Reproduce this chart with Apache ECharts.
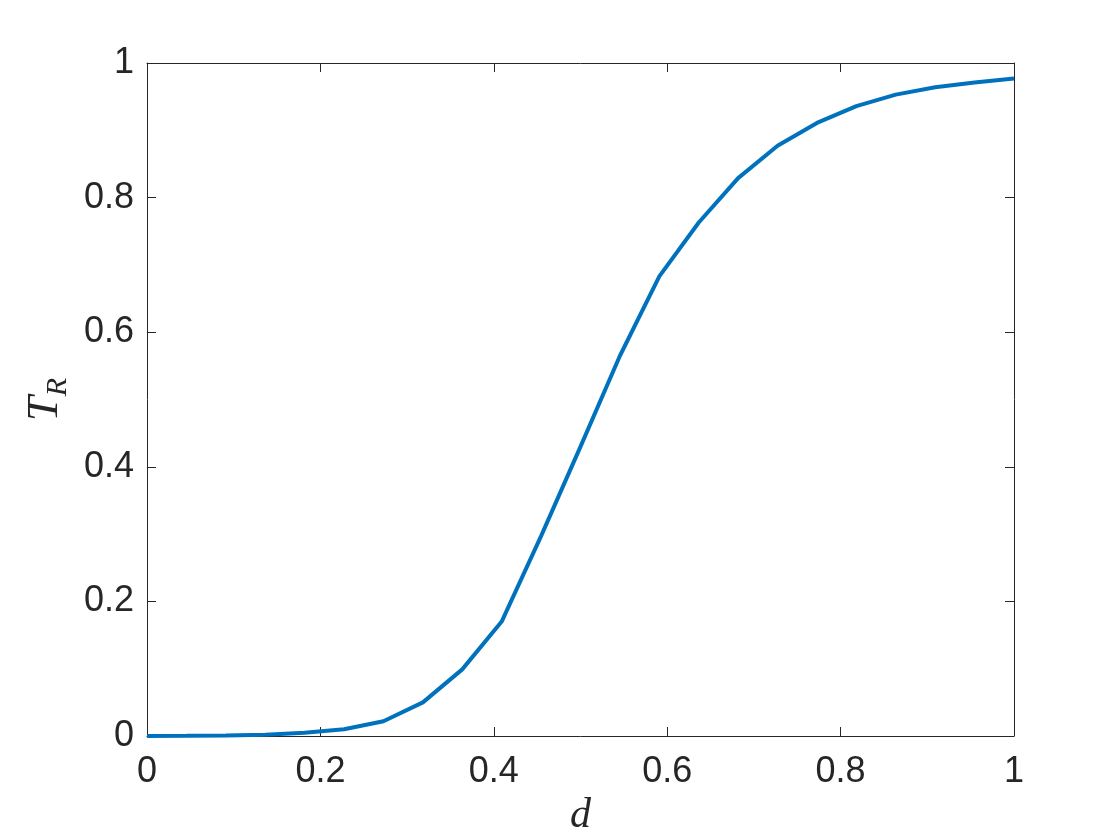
<!DOCTYPE html>
<html>
<head>
<meta charset="utf-8">
<script src="https://cdn.jsdelivr.net/npm/echarts@6/dist/echarts.min.js"></script>
<style>
html,body{margin:0;padding:0;background:#fff;}
#chart{width:1120px;height:840px;}
</style>
</head>
<body>
<div id="chart"></div>
<script>
// d = k/22, k = 0..22
const dValues = [0, 0.0455, 0.0909, 0.1364, 0.1818, 0.2273, 0.2727, 0.3182, 0.3636, 0.4091, 0.4545,
  0.5, 0.5455, 0.5909, 0.6364, 0.6818, 0.7273, 0.7727, 0.8182, 0.8636, 0.9091, 0.9545, 1.0];
const TRValues = [0, 0.0002, 0.0006, 0.002, 0.005, 0.010, 0.022, 0.050, 0.099, 0.170, 0.297,
  0.430, 0.565, 0.683, 0.763, 0.829, 0.877, 0.911, 0.936, 0.953, 0.964, 0.971, 0.977];
const xTicks = [0, 0.2, 0.4, 0.6, 0.8, 1];
const yTicks = [0, 0.2, 0.4, 0.6, 0.8, 1];

const ink = '#262626';
const seriesData = dValues.map((d, i) => [d, TRValues[i]]);

const chart = echarts.init(document.getElementById('chart'), null, {renderer: 'canvas'});

const baseAxis = {
  type: 'value', min: 0, max: 1, interval: 0.2,
  axisLine: {show: true, onZero: false, lineStyle: {color: ink, width: 1}},
  axisTick: {show: true, inside: true, length: 9, lineStyle: {color: ink, width: 1}},
  splitLine: {show: false}
};

chart.setOption({
  animation: false,
  backgroundColor: '#ffffff',
  grid: {left: 147, right: 106, top: 63, bottom: 104, containLabel: false, outerBoundsMode: 'none'},
  xAxis: [
    Object.assign({}, baseAxis, {
      position: 'bottom',
      axisLabel: {show: true, color: ink, fontSize: 36, fontFamily: 'Liberation Sans', margin: 18,
        formatter: v => String(xTicks.find(t => Math.abs(t - v) < 1e-9) ?? v)},
      name: 'd', nameLocation: 'middle', nameGap: 50,
      nameTextStyle: {color: ink, fontSize: 42, fontStyle: 'italic', fontFamily: 'Liberation Serif'}
    }),
    Object.assign({}, baseAxis, {position: 'top', axisLabel: {show: false}})
  ],
  yAxis: [
    Object.assign({}, baseAxis, {
      position: 'left',
      axisLabel: {show: true, color: ink, fontSize: 36, fontFamily: 'Liberation Sans', margin: 13,
        padding: [6, 0, 0, 0],
        formatter: v => String(yTicks.find(t => Math.abs(t - v) < 1e-9) ?? v)},
      name: '{t|T}{r|R}', nameLocation: 'middle', nameGap: 52, nameRotate: 90,
      nameTextStyle: {
        color: ink,
        rich: {
          t: {fontSize: 45, fontStyle: 'italic', fontFamily: 'Liberation Serif', color: ink, lineHeight: 50, verticalAlign: 'top'},
          r: {fontSize: 30, fontStyle: 'italic', fontFamily: 'Liberation Serif', color: ink, lineHeight: 50, verticalAlign: 'bottom'}
        }
      }
    }),
    Object.assign({}, baseAxis, {position: 'right', axisLabel: {show: false}})
  ],
  series: [{
    type: 'line',
    data: seriesData,
    xAxisIndex: 0, yAxisIndex: 0,
    showSymbol: false,
    smooth: false,
    lineStyle: {color: '#0072BD', width: 4},
    itemStyle: {color: '#0072BD'}
  }]
});
</script>
</body>
</html>
